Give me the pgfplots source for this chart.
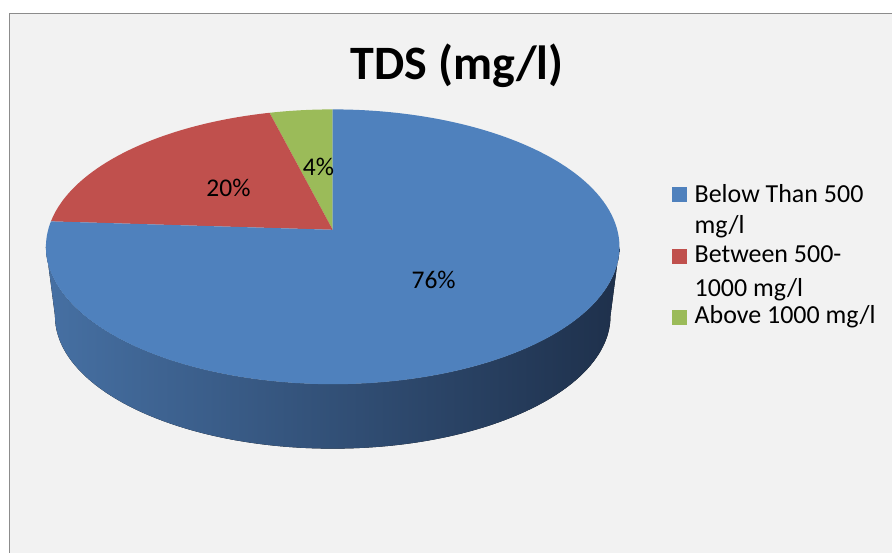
\documentclass[border=0pt]{standalone}
\usepackage{pgfplots}
\usepackage{pgfplotstable}
\pgfplotsset{compat=1.18}
\usepackage{fontspec}
\setmainfont{Carlito}
\definecolor{pieblue}{HTML}{4F81BD}
\definecolor{piered}{HTML}{C0504D}
\definecolor{piegreen}{HTML}{9BBB59}
\definecolor{sideL}{RGB}{70,112,163}
\definecolor{sideR}{RGB}{30,48,75}
\definecolor{panelbg}{HTML}{F2F2F2}
\definecolor{framegray}{HTML}{8C8C8C}

% shares in percent: Below Than 500 mg/l, Between 500-1000 mg/l, Above 1000 mg/l
\pgfplotstableread{
share
76
20
4
}\piedata

% projected angle of a point of the (tilted) pie rim
\newcommand\phiof[2]{%
  \pgfmathsetmacro\tmpd{1+\pK*sin(#1)}%
  \pgfmathsetmacro\tmpx{\pS*cos(#1)/\tmpd/\rx}%
  \pgfmathsetmacro\tmpy{(\pT*sin(#1)/\tmpd+(\vy-\cy))/\ry}%
  \pgfmathsetmacro#2{atan2(\tmpy,\tmpx)}}

\begin{document}
\begin{tikzpicture}
\pgfplotstablegetelem{0}{share}\of\piedata \let\vA\pgfplotsretval
\pgfplotstablegetelem{1}{share}\of\piedata \let\vB\pgfplotsretval
\pgfplotstablegetelem{2}{share}\of\piedata \let\vC\pgfplotsretval
% geometry (axis units = pt)
\def\cx{333}\def\cy{306}\def\rx{287}\def\ry{137.5}\def\vy{323}
\def\bcy{237}\def\brx{278}\def\bry{133}
\def\pK{0.1273}\def\pS{284.7}\def\pT{135.3}
% slice boundaries (true angles), clockwise from 12 o'clock: blue, red, green
\pgfmathsetmacro\tA{90}
\pgfmathsetmacro\tB{90+3.6*\vC}
\pgfmathsetmacro\tC{\tB+3.6*\vB}
\pgfmathsetmacro\tD{\tC+3.6*\vA}
\phiof{\tA}\fA
\phiof{\tB}\fB
\phiof{\tC}\fC
\phiof{\tD}\fD
\pgfmathsetmacro\fD{\fD<\fC ? \fD+360 : \fD}
\begin{axis}[
  width=893pt, height=553pt, scale only axis,
  xmin=0, xmax=893, ymin=0, ymax=553,
  enlargelimits=false, hide axis, clip=false,
]
\fill[white] (axis cs:0,0) rectangle (axis cs:893,553);
\fill[panelbg] (axis cs:9.5,0) rectangle (axis cs:893,539.5);
\draw[framegray, line width=1.5pt] (axis cs:9.5,0) -- (axis cs:9.5,539.5) -- (axis cs:893,539.5);
% side of the pie
\fill[left color=sideL, right color=sideR]
  (axis cs:\cx-\rx,\cy) arc[start angle=180, end angle=360, x radius=\rx, y radius=\ry]
  -- (axis cs:\cx+\brx,\bcy) arc[start angle=0, end angle=-180, x radius=\brx, y radius=\bry]
  -- cycle;
% top slices
\fill[piegreen] (axis cs:\cx,\vy) -- (axis cs:{\cx+\rx*cos(\fA)},{\cy+\ry*sin(\fA)})
  arc[start angle=\fA, end angle=\fB, x radius=\rx, y radius=\ry] -- cycle;
\fill[piered] (axis cs:\cx,\vy) -- (axis cs:{\cx+\rx*cos(\fB)},{\cy+\ry*sin(\fB)})
  arc[start angle=\fB, end angle=\fC, x radius=\rx, y radius=\ry] -- cycle;
\fill[pieblue] (axis cs:\cx,\vy) -- (axis cs:{\cx+\rx*cos(\fC)},{\cy+\ry*sin(\fC)})
  arc[start angle=\fC, end angle=\fD, x radius=\rx, y radius=\ry] -- cycle;
% data labels
\node[anchor=base, inner sep=0pt, font=\fontsize{25.5}{30}\selectfont] at (axis cs:434,264) {\vA\%};
\node[anchor=base, inner sep=0pt, font=\fontsize{25.5}{30}\selectfont] at (axis cs:228.7,356) {\vB\%};
\node[anchor=base, inner sep=0pt, font=\fontsize{25.5}{30}\selectfont] at (axis cs:318.8,377) {\vC\%};
% title
\node[anchor=base, inner sep=0pt, font=\fontsize{48}{58}\selectfont\bfseries] at (axis cs:457.5,473) {TDS (mg/l)};
% legend
\fill[pieblue]  (axis cs:673,351) rectangle (axis cs:688,366);
\fill[piered]   (axis cs:673,289) rectangle (axis cs:688,304);
\fill[piegreen] (axis cs:673,228) rectangle (axis cs:688,243);
\begin{scope}[every node/.style={anchor=base west, inner sep=0pt, font=\fontsize{26}{31}\selectfont}]
\node at (axis cs:695,350.5) {Below Than 500};
\node at (axis cs:695,319) {mg/l};
\node at (axis cs:695,290.5) {Between 500-};
\node at (axis cs:695,256.5) {1000 mg/l};
\node at (axis cs:695,229) {Above 1000 mg/l};
\end{scope}
\end{axis}
\end{tikzpicture}
\end{document}
